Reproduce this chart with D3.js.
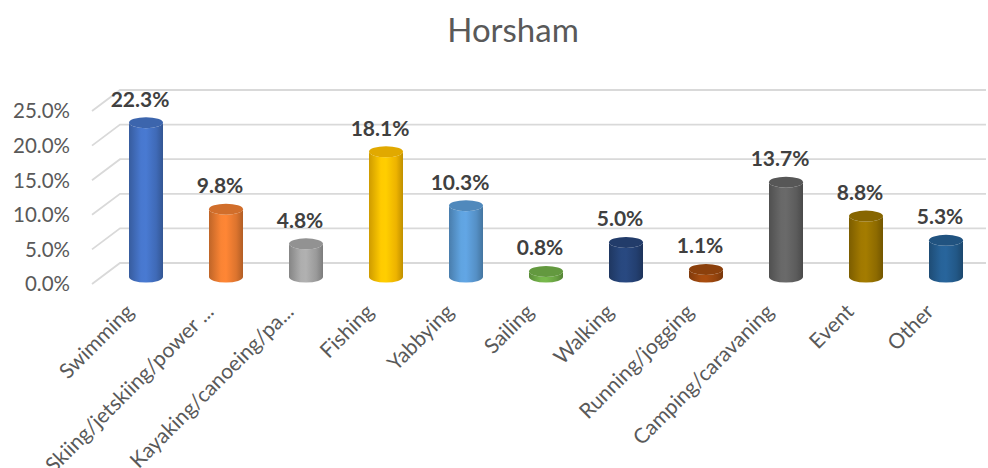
<!DOCTYPE html>
<html>
<head>
<meta charset="utf-8">
<script src="https://cdn.jsdelivr.net/npm/d3@7"></script>
<style>
  html, body { margin: 0; padding: 0; background: #fff; }
  svg text { font-family: Lato, "Open Sans", sans-serif; }
</style>
</head>
<body>
<svg id="chart" width="988" height="468"></svg>
<script>
const categories = ['Swimming', 'Skiing/jetskiing/power ...', 'Kayaking/canoeing/pa...', 'Fishing', 'Yabbying',
  'Sailing', 'Walking', 'Running/jogging', 'Camping/caravaning', 'Event', 'Other']
const values = [22.3, 9.8, 4.8, 18.1, 10.3, 0.8, 5.0, 1.1, 13.7, 8.8, 5.3]
const barColors = ['#4472C4', '#ED7D31', '#A5A5A5', '#FFC000', '#5B9BD5', '#70AD47',
  '#264478', '#9E480E', '#636363', '#997300', '#255E91']
const ticks = [0, 5, 10, 15, 20, 25]
const title = 'Horsham'

const svg = d3.select('#chart')
const textColor = '#595959'
const gridColor = '#D9D9D9'

// depth offsets of the 3D floor (back wall vs front edge)
const backDy = -14
const frontDy = 7

const x = d3.scaleBand().domain(categories).range([106, 986]).paddingInner(0)
const y = d3.scaleLinear().domain([0, 25]).range([277, 104])

const barW = 34
const ry = 5.5

svg.append('text')
  .attr('x', 513).attr('y', 42)
  .attr('text-anchor', 'middle')
  .style('font-size', '33px')
  .style('fill', textColor)
  .text(title)

// gridlines: slanted side wall + back wall
const grid = svg.append('g')
ticks.forEach(t => {
  const yy = y(t)
  grid.append('path')
    .attr('d', `M92,${yy + frontDy} L120,${yy + backDy} L986,${yy + backDy}`)
    .attr('fill', 'none')
    .attr('stroke', gridColor)
    .attr('stroke-width', 1.8)
})

svg.append('g').selectAll('text')
  .data(ticks)
  .join('text')
  .attr('x', 70)
  .attr('y', d => y(d) + frontDy)
  .attr('dy', '0.36em')
  .attr('text-anchor', 'end')
  .style('font-size', '20.5px')
  .style('fill', textColor)
  .text(d => d.toFixed(1) + '%')

// gradients per bar
const defs = svg.append('defs')
barColors.forEach((c, i) => {
  const base = d3.color(c)
  const g = defs.append('linearGradient')
    .attr('id', 'grad' + i)
    .attr('x1', '0%').attr('x2', '100%').attr('y1', '0%').attr('y2', '0%')
  const stops = [
    [0, base.darker(0.6)],
    [0.35, base.brighter(0.15)],
    [0.5, base.brighter(0.2)],
    [0.8, base.darker(0.2)],
    [1, base.darker(0.8)]
  ]
  stops.forEach(s => g.append('stop').attr('offset', s[0]).attr('stop-color', s[1]))
})

const bars = svg.append('g').selectAll('g')
  .data(values)
  .join('g')

bars.append('path')
  .attr('d', (d, i) => {
    const cx = x(categories[i]) + x.bandwidth() / 2
    const l = cx - barW / 2, r = cx + barW / 2
    const top = y(d), bot = y(0)
    return `M${l},${top} L${l},${bot} A${barW / 2},${ry} 0 0 0 ${r},${bot} L${r},${top} A${barW / 2},${ry} 0 0 1 ${l},${top} Z`
  })
  .attr('fill', (d, i) => `url(#grad${i})`)

bars.append('ellipse')
  .attr('cx', (d, i) => x(categories[i]) + x.bandwidth() / 2)
  .attr('cy', d => y(d))
  .attr('rx', barW / 2)
  .attr('ry', ry)
  .attr('fill', (d, i) => d3.color(barColors[i]).darker(0.35))

bars.append('text')
  .attr('x', (d, i) => x(categories[i]) + x.bandwidth() / 2 - 6)
  .attr('y', d => y(d) - 16)
  .attr('text-anchor', 'middle')
  .style('font-size', '21px')
  .style('font-weight', 'bold')
  .style('fill', '#404040')
  .text(d => d.toFixed(1) + '%')

svg.append('g').selectAll('text')
  .data(categories)
  .join('text')
  .attr('transform', d => `translate(${x(d) + x.bandwidth() / 2 - 11},${313}) rotate(-45)`)
  .attr('text-anchor', 'end')
  .style('font-size', '21px')
  .style('fill', textColor)
  .text(d => d)
</script>
</body>
</html>
